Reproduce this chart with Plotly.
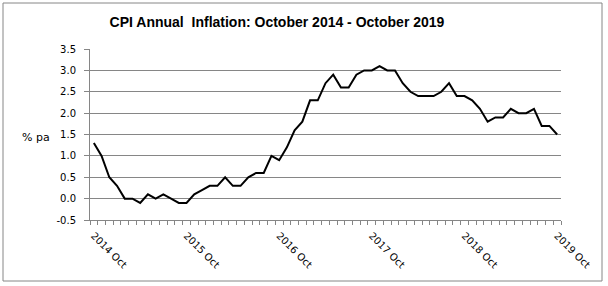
import plotly.graph_objects as go

months = ["Oct","Nov","Dec","Jan","Feb","Mar","Apr","May","Jun","Jul","Aug","Sep"]
categories = []
for i in range(61):
    m = months[i % 12]
    yr = 2014 + (i + 9) // 12
    categories.append(f"{yr} {m}")

values = [1.3, 1.0, 0.5, 0.3, 0.0, 0.0, -0.1, 0.1, 0.0, 0.1, 0.0, -0.1,
          -0.1, 0.1, 0.2, 0.3, 0.3, 0.5, 0.3, 0.3, 0.5, 0.6, 0.6, 1.0,
          0.9, 1.2, 1.6, 1.8, 2.3, 2.3, 2.7, 2.9, 2.6, 2.6, 2.9, 3.0,
          3.0, 3.1, 3.0, 3.0, 2.7, 2.5, 2.4, 2.4, 2.4, 2.5, 2.7, 2.4,
          2.4, 2.3, 2.1, 1.8, 1.9, 1.9, 2.1, 2.0, 2.0, 2.1, 1.7, 1.7,
          1.5]

label_idx = list(range(0, 61, 12))
label_text = [categories[i] for i in label_idx]
y_ticks = [-0.5, 0.0, 0.5, 1.0, 1.5, 2.0, 2.5, 3.0, 3.5]

L, R, T, B = 90, 47, 49, 66
W, H = 608, 286
pw, ph = W - L - R, H - T - B

fig = go.Figure()
fig.add_trace(go.Scatter(x=list(range(len(values))), y=values, mode="lines",
                         line=dict(color="black", width=2), hoverinfo="skip"))

fig.update_layout(
    width=W, height=H,
    margin=dict(l=L, r=R, t=T, b=B),
    paper_bgcolor="white", plot_bgcolor="white",
    showlegend=False,
    title=dict(text="<b>CPI Annual  Inflation: October 2014 - October 2019</b>",
               x=(277 - L) / pw, xref="paper", xanchor="center",
               y=1 - 22 / H, yanchor="middle",
               font=dict(family="Liberation Sans, Arial", size=14, color="black")),
    font=dict(family="DejaVu Sans, Verdana", color="black"),
)
fig.update_xaxes(
    range=[-0.5, 60.5], tickmode="array", tickvals=label_idx, ticktext=label_text,
    tickangle=45, ticks="", showgrid=False, zeroline=False,
    showline=True, linecolor="#868686", linewidth=1,
    ticklabelstandoff=5,
    tickfont=dict(size=10, family="DejaVu Sans, Verdana", color="black"),
    minor=dict(tickmode="linear", tick0=-0.5, dtick=1, ticks="outside",
               ticklen=4, tickcolor="#868686", showgrid=False),
)
fig.update_yaxes(
    range=[-0.5, 3.5], tickmode="array", tickvals=y_ticks,
    ticktext=[f"{v:.1f}" for v in y_ticks],
    ticks="outside", ticklen=5, tickcolor="#868686",
    showgrid=True, gridcolor="#868686", gridwidth=1, zeroline=False,
    showline=True, linecolor="#868686", linewidth=1,
    ticklabelstandoff=6,
    tickfont=dict(size=10, family="DejaVu Sans, Verdana", color="black"),
)
fig.add_annotation(text="% pa", xref="paper", yref="paper",
                   x=(36 - L) / pw, y=1 - (137 - T) / ph, showarrow=False,
                   xanchor="center", yanchor="middle",
                   font=dict(size=11, family="DejaVu Sans, Verdana", color="black"))
fig.add_shape(type="rect", xref="paper", yref="paper",
              x0=(3 - L) / pw, x1=(602 - L) / pw,
              y0=1 - (281 - T) / ph, y1=1 - (3 - T) / ph,
              line=dict(color="#868686", width=1), layer="below")

fig.write_html("out.html")
